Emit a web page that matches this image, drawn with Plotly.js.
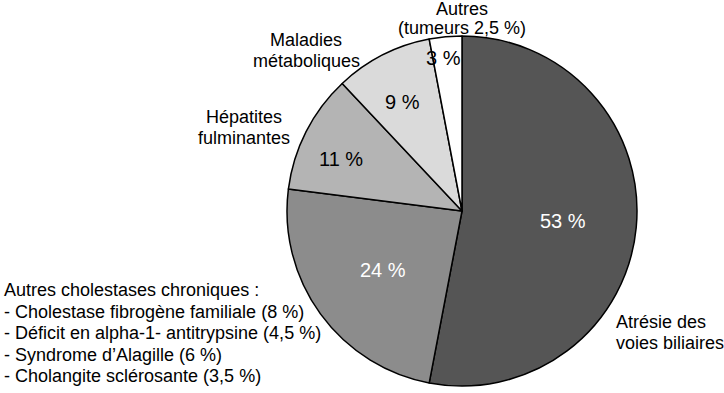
<!DOCTYPE html>
<html>
<head>
<meta charset="utf-8">
<script src="https://cdn.plot.ly/plotly-3.0.1.min.js"></script>
<style>html,body{margin:0;padding:0;background:#fff;}#chart{width:724px;height:393px;}</style>
</head>
<body>
<div id="chart"></div>
<script>
// Data
const categories = ["Atrésie des voies biliaires", "Autres cholestases chroniques", "Hépatites fulminantes", "Maladies métaboliques", "Autres (tumeurs 2,5 %)"];
const values = [53, 24, 11, 9, 3];
const valueLabels = ["53 %", "24 %", "11 %", "9 %", "3 %"];
const sliceColors = ["#555555", "#8c8c8c", "#b4b4b4", "#dadada", "#ffffff"];
const textColors = ["#ffffff", "#ffffff", "#000000", "#000000", "#000000"];

// Outer label lines per category
const labelLines = [
  ["Atrésie des", "voies biliaires"],
  ["Autres cholestases chroniques :", "- Cholestase fibrogène familiale (8 %)", "- Déficit en alpha-1- antitrypsine (4,5 %)", "- Syndrome d\u2019Alagille (6 %)", "- Cholangite sclérosante (3,5 %)"],
  ["Hépatites", "fulminantes"],
  ["Maladies", "métaboliques"],
  ["Autres", "(tumeurs 2,5 %)"]
];

// Layout placement (pixels)
const W = 724, H = 393;
const labelPlace = [
  {x: 614, y: 322, anchor: "left", step: 21},
  {x: 2, y: 290, anchor: "left", step: 21.5},
  {x: 244, y: 117, anchor: "center", step: 21},
  {x: 306, y: 40, anchor: "center", step: 21},
  {x: 462, y: 9, anchor: "center", step: 19}
];
const valuePlace = [
  {x: 563, y: 221},
  {x: 383, y: 270},
  {x: 341, y: 159},
  {x: 402, y: 102},
  {x: 443, y: 58}
];

const FONT = "Liberation Sans, Arial, Helvetica, sans-serif";
const annotations = [];
labelLines.forEach((lines, i) => {
  const p = labelPlace[i];
  lines.forEach((ln, j) => {
    annotations.push({
      text: ln, showarrow: false, xref: "paper", yref: "paper",
      x: p.x / W, y: 1 - (p.y + j * p.step) / H,
      xanchor: p.anchor, yanchor: "middle",
      font: {family: FONT, size: 18, color: "#000"}
    });
  });
});
valueLabels.forEach((t, i) => {
  const p = valuePlace[i];
  annotations.push({
    text: t, showarrow: false, xref: "paper", yref: "paper",
    x: p.x / W, y: 1 - p.y / H, xanchor: "center", yanchor: "middle",
    font: {family: FONT, size: 20, color: textColors[i]}
  });
});

const cx = 462, cy = 211, r = 175;
const trace = {
  type: "pie",
  values: values,
  labels: categories,
  textinfo: "none",
  hoverinfo: "label+percent",
  sort: false,
  direction: "clockwise",
  rotation: 0,
  marker: {colors: sliceColors, line: {color: "#000000", width: 1.5}},
  domain: {x: [(cx - r) / W, (cx + r) / W], y: [1 - (cy + r) / H, 1 - (cy - r) / H]},
  showlegend: false
};

const layout = {
  width: W, height: H,
  margin: {l: 0, r: 0, t: 0, b: 0},
  paper_bgcolor: "#ffffff",
  plot_bgcolor: "#ffffff",
  showlegend: false,
  annotations: annotations,
  font: {family: FONT}
};

Plotly.newPlot("chart", [trace], layout, {displayModeBar: false, staticPlot: true});
</script>
</body>
</html>
